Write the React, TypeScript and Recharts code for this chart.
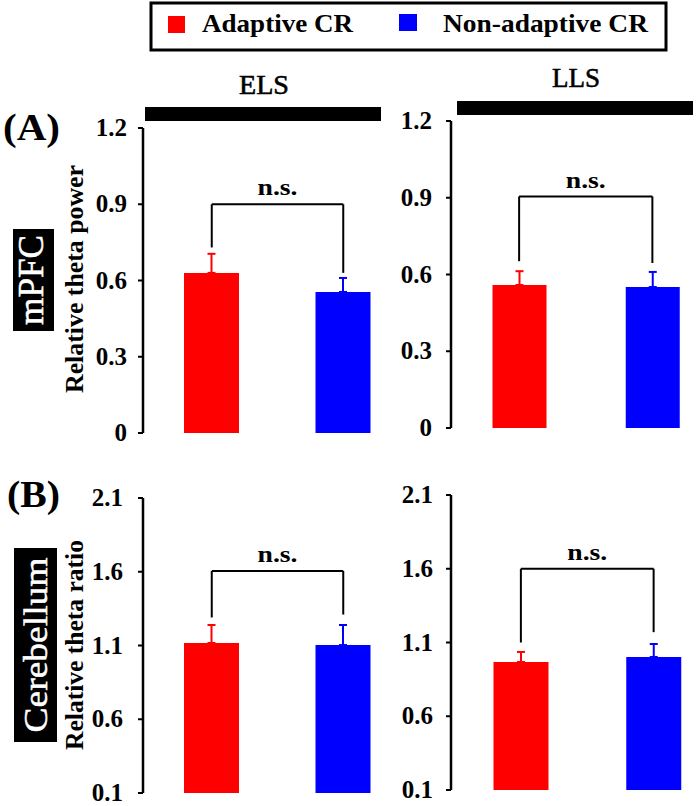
import React from 'react';
import { BarChart, Bar, XAxis, YAxis, ErrorBar, ReferenceLine, Cell } from 'recharts';

const groups = ['Adaptive CR', 'Non-adaptive CR'];
const colors = ['#FF0000', '#0000FF'];

const stages = ['ELS', 'LLS'];
const regions = ['mPFC', 'Cerebellum'];
const yTitles = ['Relative theta power', 'Relative theta ratio'];
const panelTags = ['(A)', '(B)'];

const mpfcElsMeans = [0.63, 0.555];
const mpfcElsErrors = [0.075, 0.055];
const mpfcLlsMeans = [0.559, 0.551];
const mpfcLlsErrors = [0.054, 0.059];
const cbElsMeans = [1.117, 1.103];
const cbElsErrors = [0.122, 0.136];
const cbLlsMeans = [0.968, 1.002];
const cbLlsErrors = [0.068, 0.088];

const mpfcTicks = [0, 0.3, 0.6, 0.9, 1.2];
const cbTicks = [0.1, 0.6, 1.1, 1.6, 2.1];

// bracket: [left leg bottom, bracket top, right leg bottom]
const mpfcElsBracket = [0.73, 0.9, 0.63];
const mpfcLlsBracket = [0.652, 0.905, 0.645];
const cbElsBracket = [1.29, 1.605, 1.31];
const cbLlsBracket = [1.1, 1.6, 1.17];

const sigLabel = 'n.s.';

const FONT = "'Liberation Serif', 'Times New Roman', serif";
const TOP_MARGIN = 24;

function buildRows(means: number[], errors: number[]) {
  return groups.map((g, i) => ({
    group: g,
    value: means[i],
    errRed: i === 0 ? [0, errors[i]] : undefined,
    errBlue: i === 1 ? [0, errors[i]] : undefined,
  }));
}

const makeNs = (offset: number) => (props: any) => {
  const vb = props.viewBox || {};
  return (
    <text
      x={vb.x + (vb.width || 0) / 2}
      y={vb.y - offset}
      textAnchor="middle"
      fontFamily={FONT}
      fontWeight="bold"
      fontSize={24}
      textLength={40}
      lengthAdjust="spacingAndGlyphs"
      fill="#000"
    >
      {sigLabel}
    </text>
  );
};

const TickText = (props: any) => {
  const { x, y, payload } = props;
  return (
    <text
      x={x}
      y={y}
      dy={8}
      textAnchor="end"
      fontFamily={FONT}
      fontWeight="bold"
      fontSize={25}
      fill="#000"
    >
      {String(payload.value)}
    </text>
  );
};

type PanelProps = {
  left: number;
  top: number; // pixel y of the top tick
  yWidth: number;
  width: number;
  plotHeight: number;
  padLeft: number;
  barSize: number;
  ticks: number[];
  rows: any[];
  bracket: number[];
  tickMargin: number;
  nsOffset: number;
};

function Panel(p: PanelProps) {
  const domain = [p.ticks[0], p.ticks[p.ticks.length - 1]];
  const bottom = 22;
  return (
    <div style={{ position: 'absolute', left: p.left, top: p.top - TOP_MARGIN }}>
      <BarChart
        width={p.width}
        height={p.plotHeight + TOP_MARGIN + bottom}
        data={p.rows}
        margin={{ top: TOP_MARGIN, right: 0, bottom, left: 0 }}
        barCategoryGap={0}
      >
        <XAxis dataKey="group" hide padding={{ left: p.padLeft, right: 0 }} />
        <YAxis
          width={p.yWidth}
          domain={domain}
          ticks={p.ticks}
          interval={0}
          allowDataOverflow
          axisLine={{ stroke: '#000', strokeWidth: 2.5 }}
          tickLine={{ stroke: '#000', strokeWidth: 2 }}
          tickSize={5}
          tickMargin={p.tickMargin}
          tick={<TickText />}
        />
        <Bar dataKey="value" barSize={p.barSize} isAnimationActive={false}>
          {p.rows.map((r, i) => (
            <Cell key={r.group} fill={colors[i]} />
          ))}
          <ErrorBar dataKey="errRed" direction="y" width={4} stroke={colors[0]} strokeWidth={2} isAnimationActive={false} />
          <ErrorBar dataKey="errBlue" direction="y" width={4} stroke={colors[1]} strokeWidth={2} isAnimationActive={false} />
        </Bar>
        <ReferenceLine
          segment={[{ x: groups[0], y: p.bracket[0] }, { x: groups[0], y: p.bracket[1] }]}
          stroke="#000"
          strokeWidth={2}
        />
        <ReferenceLine
          segment={[{ x: groups[0], y: p.bracket[1] }, { x: groups[1], y: p.bracket[1] }]}
          stroke="#000"
          strokeWidth={2}
          label={makeNs(p.nsOffset)}
        />
        <ReferenceLine
          segment={[{ x: groups[1], y: p.bracket[1] }, { x: groups[1], y: p.bracket[2] }]}
          stroke="#000"
          strokeWidth={2}
        />
      </BarChart>
    </div>
  );
}

export default function App() {
  return (
    <div
      style={{
        position: 'absolute',
        left: 0,
        top: 0,
        width: 697,
        height: 806,
        overflow: 'hidden',
        background: '#fff',
      }}
    >
      <svg width={697} height={806} style={{ position: 'absolute', left: 0, top: 0 }}>
        {/* legend */}
        <rect x={151} y={3} width={515} height={47} fill="#fff" stroke="#000" strokeWidth={3} />
        <rect x={168} y={16} width={17} height={17} fill={colors[0]} />
        <text x={202} y={32} fontFamily={FONT} fontWeight="bold" fontSize={26} textLength={151} lengthAdjust="spacingAndGlyphs">
          {groups[0]}
        </text>
        <rect x={399} y={14} width={18} height={17} fill={colors[1]} />
        <text x={443} y={32} fontFamily={FONT} fontWeight="bold" fontSize={26} textLength={205} lengthAdjust="spacingAndGlyphs">
          {groups[1]}
        </text>

        {/* stage headers */}
        <text x={264} y={94} textAnchor="middle" fontFamily={FONT} fontSize={28} textLength={50} lengthAdjust="spacingAndGlyphs" stroke="#000" strokeWidth={0.6}>
          {stages[0]}
        </text>
        <rect x={145} y={107} width={236} height={14} fill="#000" />
        <text x={576} y={87} textAnchor="middle" fontFamily={FONT} fontSize={28} textLength={48} lengthAdjust="spacingAndGlyphs" stroke="#000" strokeWidth={0.6}>
          {stages[1]}
        </text>
        <rect x={457} y={101} width={236} height={14} fill="#000" />

        {/* panel tags */}
        <text x={3} y={140} fontFamily={FONT} fontWeight="bold" fontSize={38} textLength={57} lengthAdjust="spacingAndGlyphs">
          {panelTags[0]}
        </text>
        <text x={7} y={507} fontFamily={FONT} fontWeight="bold" fontSize={38} textLength={53} lengthAdjust="spacingAndGlyphs">
          {panelTags[1]}
        </text>

        {/* region boxes */}
        <rect x={13} y={229} width={41} height={102} fill="#000" />
        <text
          transform="translate(43,280) rotate(-90)"
          textAnchor="middle"
          fontFamily={FONT}
          fontSize={35}
          fill="#fff"
          stroke="#fff"
          strokeWidth={0.5}
          textLength={90}
          lengthAdjust="spacingAndGlyphs"
        >
          {regions[0]}
        </text>
        <rect x={14} y={548} width={43} height={194} fill="#000" />
        <text
          transform="translate(47,645) rotate(-90)"
          textAnchor="middle"
          fontFamily={FONT}
          fontSize={34}
          fill="#fff"
          stroke="#fff"
          strokeWidth={0.5}
          textLength={175}
          lengthAdjust="spacingAndGlyphs"
        >
          {regions[1]}
        </text>

        {/* y-axis titles */}
        <text
          transform="translate(83,279) rotate(-90)"
          textAnchor="middle"
          fontFamily={FONT}
          fontWeight="bold"
          fontSize={25}
          textLength={228}
          lengthAdjust="spacingAndGlyphs"
        >
          {yTitles[0]}
        </text>
        <text
          transform="translate(83,645) rotate(-90)"
          textAnchor="middle"
          fontFamily={FONT}
          fontWeight="bold"
          fontSize={25}
          textLength={210}
          lengthAdjust="spacingAndGlyphs"
        >
          {yTitles[1]}
        </text>
      </svg>

      <Panel
        left={0}
        top={128}
        yWidth={143}
        width={409}
        plotHeight={305}
        padLeft={3}
        barSize={55}
        ticks={mpfcTicks}
        rows={buildRows(mpfcElsMeans, mpfcElsErrors)}
        bracket={mpfcElsBracket}
        tickMargin={11}
        nsOffset={9}
      />
      <Panel
        left={380}
        top={121}
        yWidth={71}
        width={339}
        plotHeight={307}
        padLeft={1.5}
        barSize={54}
        ticks={mpfcTicks}
        rows={buildRows(mpfcLlsMeans, mpfcLlsErrors)}
        bracket={mpfcLlsBracket}
        tickMargin={14}
        nsOffset={8}
      />
      <Panel
        left={0}
        top={498}
        yWidth={143}
        width={409}
        plotHeight={295}
        padLeft={3}
        barSize={55}
        ticks={cbTicks}
        rows={buildRows(cbElsMeans, cbElsErrors)}
        bracket={cbElsBracket}
        tickMargin={15}
        nsOffset={9}
      />
      <Panel
        left={380}
        top={495}
        yWidth={71}
        width={340}
        plotHeight={295}
        padLeft={3.5}
        barSize={55}
        ticks={cbTicks}
        rows={buildRows(cbLlsMeans, cbLlsErrors)}
        bracket={cbLlsBracket}
        tickMargin={13}
        nsOffset={9}
      />
    </div>
  );
}
